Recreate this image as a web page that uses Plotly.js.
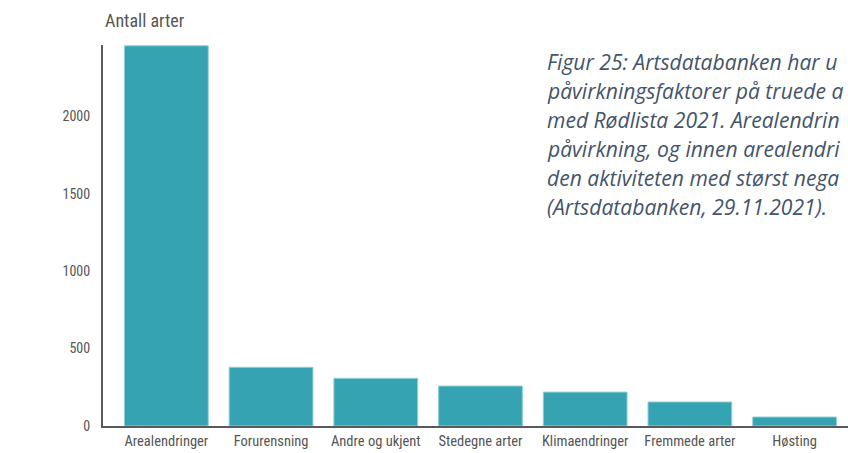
<!DOCTYPE html>
<html><head><meta charset="utf-8">
<script src="https://cdn.plot.ly/plotly-3.0.1.min.js"></script>
<style>html,body{margin:0;padding:0;background:#fff;overflow:hidden}</style>
</head><body><div id="chart" style="width:848px;height:453px"></div>
<script>
const categories = ["Arealendringer","Forurensning","Andre og ukjent","Stedegne arter","Klimaendringer","Fremmede arter","Høsting"];
const values = [2455, 379, 308, 258, 219, 155, 58];
const yTicks = [0, 500, 1000, 1500, 2000];
const captionLines = [
  "Figur 25: Artsdatabanken har u",
  "påvirkningsfaktorer på truede a",
  "med Rødlista 2021. Arealendrin",
  "påvirkning, og innen arealendri",
  "den aktiviteten med størst nega",
  "(Artsdatabanken, 29.11.2021)."
];
const fam = "'Roboto Condensed','Liberation Sans Narrow',Roboto,sans-serif";
const data = [{
  type: "bar", x: categories, y: values,
  marker: {color: "#35a3b2", line: {color: "#8fd0d8", width: 1}},
  hoverinfo: "skip"
}];
const H = 453, T = 45, B = 27, PH = H - T - B;
const annotations = [
  {text: "Antall arter", xref: "paper", yref: "paper", x: 0, y: 1, xanchor: "left", yanchor: "bottom",
   yshift: 12, showarrow: false, font: {family: fam, size: 18, color: "#555"}}
];
captionLines.forEach((s, i) => {
  const yc = 61.7 + i * 28.9;
  annotations.push({text: "<i>" + s + "</i>", xref: "paper", yref: "paper",
    x: (545 - 103) / 745, y: (H - B - yc) / PH, xanchor: "left", yanchor: "middle",
    align: "left", showarrow: false,
    font: {family: "'Open Sans', sans-serif", size: 21.1, color: "#44546a"}});
});
const layout = {
  width: 848, height: 453,
  margin: {l: 103, r: 0, t: T, b: B},
  paper_bgcolor: "#fff", plot_bgcolor: "#fff",
  bargap: 0.2,
  showlegend: false,
  xaxis: {range: [-0.605, 6.51], showgrid: false, zeroline: false, showline: true,
          linecolor: "#5a5a5a", linewidth: 2, ticks: "", ticklabelstandoff: 1,
          tickfont: {family: fam, size: 14.5, color: "#555"}, fixedrange: true},
  yaxis: {range: [0, 2460], tickvals: yTicks, ticktext: yTicks.map(String), showgrid: false,
          zeroline: false, showline: true, linecolor: "#5a5a5a", linewidth: 2, ticks: "",
          ticklabelstandoff: 8, tickfont: {family: fam, size: 14, color: "#555"}, fixedrange: true},
  annotations: annotations
};
Plotly.newPlot("chart", data, layout, {displayModeBar: false, staticPlot: true});
</script></body></html>
